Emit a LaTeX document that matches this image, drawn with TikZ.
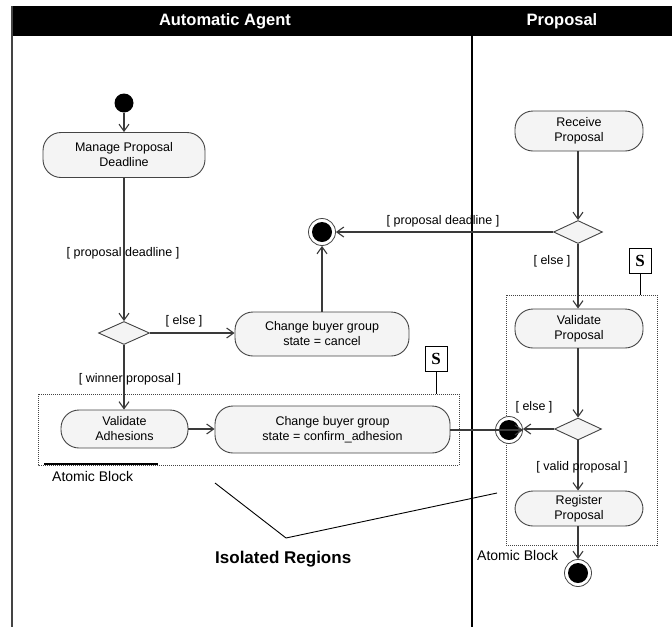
\documentclass[tikz,border=0pt]{standalone}
\usepackage{fontspec}
\setmainfont{Liberation Sans}
\newfontfamily\stereofont{Liberation Serif}
\usetikzlibrary{shapes.geometric,arrows.meta}
\definecolor{linecol}{HTML}{3A3A3A}
\definecolor{boxfill}{HTML}{F4F4F4}
\definecolor{edgecol}{HTML}{444444}
\begin{document}
\begin{tikzpicture}[x=1pt,y=-1pt,
  activity/.style={draw=edgecol, fill=boxfill, rounded corners=18pt, line width=0.9pt,
    inner sep=0pt, align=center, font=\fontsize{12.5}{15}\selectfont},
  choice/.style={diamond, draw=edgecol, fill=boxfill, line width=0.9pt, inner sep=0pt},
  flow/.style={draw=linecol, line width=1.1pt, -{Straight Barb[length=7pt,width=10pt]}},
  guard/.style={font=\fontsize{12.5}{14}\selectfont, inner sep=0pt},
  startnode/.style={circle, fill=black, minimum size=19pt, inner sep=0pt},
  endnode/.style={circle, draw=edgecol, line width=0.8pt, fill=white, minimum size=27pt, inner sep=0pt,
    path picture={\fill[black] (path picture bounding box.center) circle (10pt);}},
  block/.style={draw=edgecol, line width=0.8pt, dash pattern=on 1pt off 1pt},
  stereo/.style={draw=black, line width=1pt, fill=white, minimum width=22pt, minimum height=25pt,
    inner sep=0pt, font=\stereofont\bfseries\fontsize{17}{17}\selectfont},
  lanehead/.style={text=white, font=\bfseries\fontsize{16.5}{18}\selectfont, inner sep=0pt},
  note/.style={font=\fontsize{14}{16}\selectfont, inner sep=0pt, anchor=west}
]
\useasboundingbox (0,0) rectangle (672,627);

% swimlane frame
\fill[black] (12,6) rectangle (672,36);
\draw[edgecol, line width=2pt] (12,6) -- (12,627);
\draw[black, line width=1.4pt] (472,36) -- (472,627);
\node[lanehead] (laneA) at (225,21) {Automatic Agent};
\node[lanehead] (laneP) at (562,21) {Proposal};

% atomic blocks
\draw[block] (38,394) rectangle (459,465);
\draw[black, line width=1.3pt] (44,464) -- (158,464);
\node[note] (atomA) at (52,476) {Atomic Block};
\draw[block] (506,295) rectangle (657,545);
\node[note] (atomP) at (477,555) {Atomic Block};

% stereotype markers
\node[stereo] (sA) at (436,359) {S};
\draw[black, line width=1pt] (sA.south) -- (436,394);
\node[stereo] (sP) at (640,260.5) {S};
\draw[black, line width=1pt] (sP.south) -- (640,295);

% Automatic Agent lane
\node[startnode] (init) at (124,103) {};
\node[activity, minimum width=162pt, minimum height=45pt] (manage) at (124,155) {Manage Proposal\\Deadline};
\node[choice, minimum width=51pt, minimum height=23pt] (d1) at (124,333) {};
\node[activity, minimum width=174pt, minimum height=44pt] (cancel) at (322,334) {Change buyer group\\state = cancel};
\node[endnode] (fin1) at (322,232) {};
\node[activity, minimum width=127pt, minimum height=38pt] (valadh) at (124.5,429) {Validate\\Adhesions};
\node[activity, minimum width=235pt, minimum height=47pt] (confirm) at (332.5,429.5) {Change buyer group\\state = confirm\_adhesion};

% Proposal lane
\node[activity, minimum width=128pt, minimum height=40pt] (receive) at (579,131) {Receive\\Proposal};
\node[choice, minimum width=49pt, minimum height=23pt] (d2) at (578,232) {};
\node[activity, minimum width=128pt, minimum height=39pt] (valprop) at (579,328.5) {Validate\\Proposal};
\node[choice, minimum width=47pt, minimum height=22pt] (d3) at (578,429) {};
\node[endnode] (fin2) at (509,430) {};
\node[activity, minimum width=128pt, minimum height=35pt] (register) at (579,508.5) {Register\\Proposal};
\node[endnode] (fin3) at (578,573) {};

% control flows
\draw[flow] (init) -- (manage.north -| init);
\draw[flow] (manage.south -| d1) -- (d1.north);
\draw[flow] (d1.east) -- (cancel.west |- d1.east);
\draw[flow] (cancel.north -| fin1) -- (fin1.south);
\draw[flow] (d1.south) -- (valadh.north -| d1.south);
\draw[flow] (valadh.east) -- (confirm.west |- valadh.east);
\draw[flow] (confirm.east |- fin2) -- (fin2.east);
\draw[flow] (receive.south -| d2) -- (d2.north);
\draw[flow] (d2.west) -- (fin1.east);
\draw[flow] (d2.south) -- (valprop.north -| d2.south);
\draw[flow] (valprop.south -| d3) -- (d3.north);
\draw[flow] (d3.west) -- (fin2.east |- d3.west);
\draw[flow] (d3.south) -- (register.north -| d3.south);
\draw[flow] (register.south -| fin3) -- (fin3.north);

% guards
\node[guard] (g1) at (123,253) {[ proposal deadline ]};
\node[guard] (g2) at (184,321) {[ else ]};
\node[guard] (g3) at (130,379) {[ winner proposal ]};
\node[guard] (g4) at (443,221) {[ proposal deadline ]};
\node[guard] (g5) at (552,261) {[ else ]};
\node[guard] (g6) at (534,407) {[ else ]};
\node[guard] (g7) at (582,467) {[ valid proposal ]};

% isolated regions callout
\coordinate (isoA) at (215,483);
\coordinate (isoB) at (286,538);
\coordinate (isoC) at (497,493);
\draw[black, line width=0.9pt] (isoA) -- (isoB) -- (isoC);
\node[font=\bfseries\fontsize{17}{19}\selectfont, inner sep=0pt, anchor=west] (iso) at (215,559) {Isolated Regions};
\end{tikzpicture}
\end{document}
